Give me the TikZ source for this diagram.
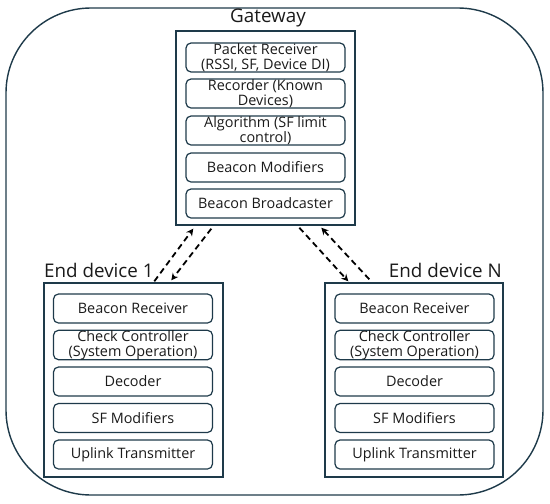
\documentclass[tikz,border=0pt]{standalone}
\usepackage{fontspec}
\setmainfont{Open Sans}
\usetikzlibrary{arrows.meta,calc}
\definecolor{bd}{HTML}{1E3A4A}
\definecolor{tx}{HTML}{1A1A1A}
\tikzset{
  frame/.style={draw=bd, line width=1.4pt},
  part/.style={draw=bd, line width=1.2pt, rounded corners=5pt, minimum width=159pt, align=center, text=tx, font=\fontsize{14.4}{15}\selectfont, inner sep=0pt},
  title/.style={text=tx, font=\fontsize{18.8}{20}\selectfont, inner sep=0pt},
  link/.style={line width=1.8pt, dash pattern=on 6pt off 4pt, -{Stealth[length=7pt,width=7pt]}}
}
\begin{document}
\begin{tikzpicture}[x=1pt,y=-1pt]
\useasboundingbox (0,0) rectangle (550,504);
\draw[frame, rounded corners=85pt] (6,8) rectangle (543,495);
% gateway
\node[frame, minimum width=179pt, minimum height=194pt, inner sep=0pt] (gw) at (265.5,128) {};
\node[title] (gwt) at (268,18) {Gateway};
\node[part, minimum height=29pt] (g1) at (265.5,57.5) {Packet Receiver\\(RSSI, SF, Device DI)};
\node[part, minimum height=29pt] (g2) at (265.5,93.5) {Recorder (Known\\Devices)};
\node[part, minimum height=29pt] (g3) at (265.5,130.5) {Algorithm (SF limit\\control)};
\node[part, minimum height=29pt] (g4) at (265.5,167.5) {Beacon Modifiers};
\node[part, minimum height=29pt] (g5) at (265.5,203.5) {Beacon Broadcaster};
% end device 1
\node[frame, minimum width=179pt, minimum height=194pt, inner sep=0pt] (ea) at (133.5,380) {};
\node[title, anchor=west] (eat) at (44,270) {End device 1};
\node[part, minimum height=29pt] (a1) at (133,308.5) {Beacon Receiver};
\node[part, minimum height=28pt] (a2) at (133,345) {Check Controller\\(System Operation)};
\node[part, minimum height=29pt] (a3) at (133,381.5) {Decoder};
\node[part, minimum height=29pt] (a4) at (133,418) {SF Modifiers};
\node[part, minimum height=29pt] (a5) at (133,454.5) {Uplink Transmitter};
% end device N
\node[frame, minimum width=178pt, minimum height=194pt, inner sep=0pt] (en) at (414,380) {};
\node[title, anchor=east] (ent) at (502,270) {End device N};
\node[part, minimum height=29pt] (n1) at (414.5,308.5) {Beacon Receiver};
\node[part, minimum height=28pt] (n2) at (414.5,345) {Check Controller\\(System Operation)};
\node[part, minimum height=29pt] (n3) at (414.5,381.5) {Decoder};
\node[part, minimum height=29pt] (n4) at (414.5,418) {SF Modifiers};
\node[part, minimum height=29pt] (n5) at (414.5,454.5) {Uplink Transmitter};
% link end points
\coordinate (ga) at ([xshift=18pt,yshift=-3pt]gw.south west);
\coordinate (gb) at ([xshift=36pt,yshift=-3pt]gw.south west);
\coordinate (gc) at ([xshift=124pt,yshift=-2pt]gw.south west);
\coordinate (gd) at ([xshift=146pt,yshift=-2pt]gw.south west);
\coordinate (aa) at ([xshift=111pt,yshift=1pt]ea.north west);
\coordinate (ab) at ([xshift=128pt,yshift=2pt]ea.north west);
\coordinate (nc) at ([xshift=24pt,yshift=1pt]en.north west);
\coordinate (nd) at ([xshift=45pt,yshift=3pt]en.north west);
\draw[link] (aa) -- (ga);
\draw[link] (gb) -- (ab);
\draw[link] (gc) -- (nc);
\draw[link] (nd) -- (gd);
\end{tikzpicture}
\end{document}
